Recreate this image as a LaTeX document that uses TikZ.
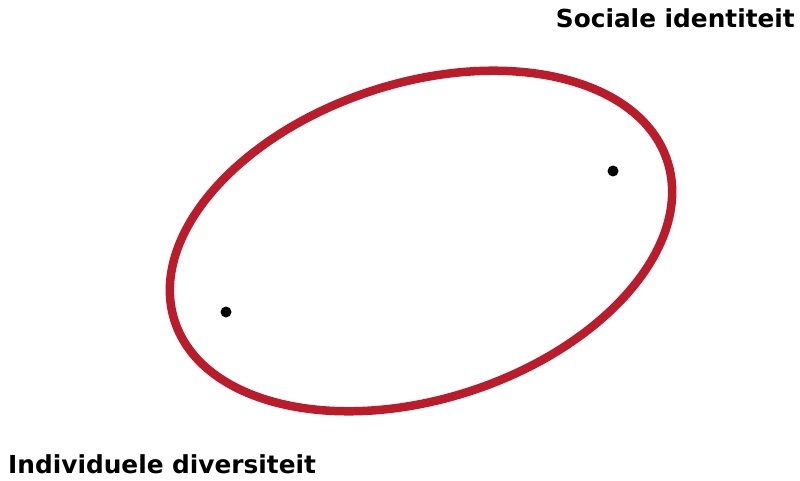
\documentclass[tikz,border=0pt]{standalone}
\usepackage{fontspec}
\setmainfont{DejaVu Sans}
\definecolor{ringred}{RGB}{187,28,44}
\begin{document}
\begin{tikzpicture}[x=1pt,y=1pt,
  lbl/.style={inner sep=0pt,font=\bfseries\fontsize{24.8}{28}\selectfont},
  pt/.style={circle,fill=black,inner sep=0pt,minimum size=11pt}]
\useasboundingbox (0,0) rectangle (800,480);
\fill[white] (0,0) rectangle (800,480);
\coordinate (c) at (421,239);
\draw[ringred,line width=8.5pt] (c) ellipse[x radius=259,y radius=158,rotate=18];
\node[pt] (d1) at (613,309) {};
\node[pt] (d2) at (226,168) {};
\node[lbl,anchor=base east] (soc) at (795,452) {Sociale identiteit};
\node[lbl,anchor=base west] (ind) at (8,7) {Individuele diversiteit};
\end{tikzpicture}
\end{document}
